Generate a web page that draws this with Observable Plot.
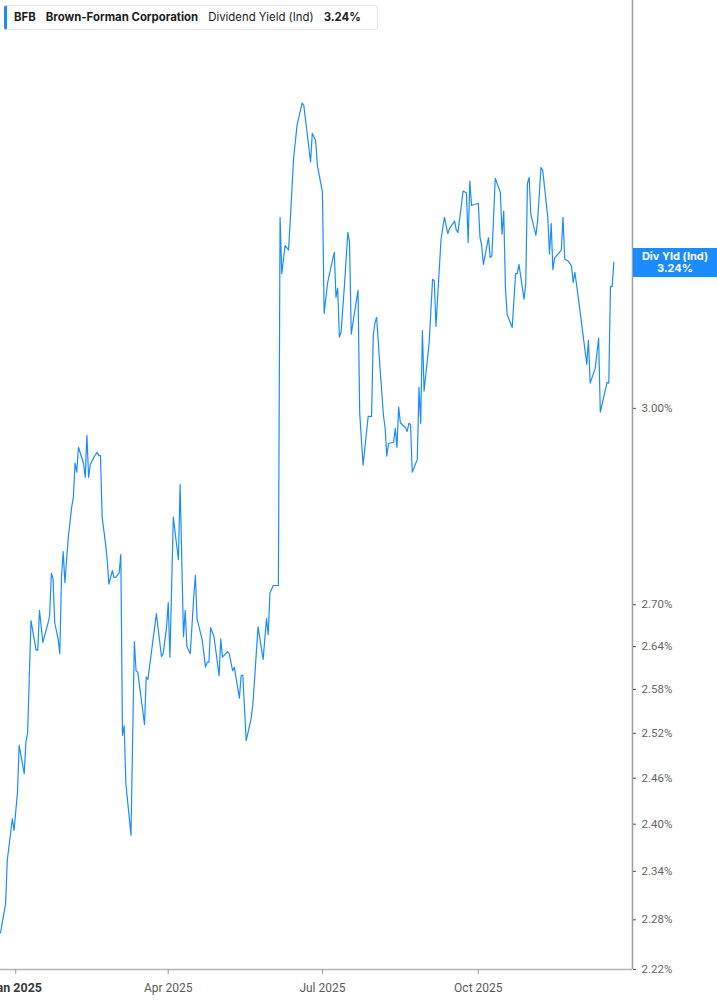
<!DOCTYPE html>
<html>
<head>
<meta charset="utf-8">
<script src="https://cdn.jsdelivr.net/npm/d3@7"></script>
<script src="https://cdn.jsdelivr.net/npm/@observablehq/plot@0.6"></script>
<style>
  html, body { margin: 0; padding: 0; background: #fff; }
  #wrap { position: relative; width: 717px; height: 1005px; overflow: hidden; font-family: Inter, "Noto Sans", sans-serif; }
  #legend { position: absolute; left: 4px; top: 5px; height: 25px; width: 374px; box-sizing: border-box;
    border: 1px solid #e6e6e6; border-left: 3px solid #1a8cff; border-radius: 3px; background: #fff;
    font-size: 11.4px; color: #1c1c1c; line-height: 23px; padding-left: 7px; white-space: nowrap; }
  #legend b { font-weight: 700; }
  #legend span { margin-right: 10px; }
  #tag { position: absolute; left: 633px; width: 84px; height: 29px; background: #1a8cff; color: #fff;
    font-size: 11px; font-weight: 700; text-align: center; line-height: 12px; box-sizing: border-box; padding-top: 2px; }
</style>
</head>
<body>
<div id="wrap">
  <div id="chart"></div>
  <div id="legend"><span><b>BFB</b></span><span><b>Brown-Forman Corporation</b></span><span>Dividend Yield (Ind)</span><b>3.24%</b></div>
  <div id="tag">Div Yld (Ind)<br>3.24%</div>
</div>
<script>
const dates = [
  "2024-12-23","2024-12-26","2024-12-27","2024-12-30","2024-12-31",
  "2025-01-02","2025-01-03","2025-01-06","2025-01-07","2025-01-08","2025-01-10","2025-01-13","2025-01-14","2025-01-15","2025-01-17","2025-01-20","2025-01-21","2025-01-22","2025-01-23","2025-01-24","2025-01-26","2025-01-27","2025-01-28","2025-01-29","2025-01-30",
  "2025-02-01","2025-02-03","2025-02-04","2025-02-05","2025-02-06","2025-02-07","2025-02-10","2025-02-11","2025-02-12","2025-02-13","2025-02-14","2025-02-16","2025-02-18","2025-02-19","2025-02-20","2025-02-21","2025-02-23","2025-02-24","2025-02-25","2025-02-27","2025-02-28",
  "2025-03-01","2025-03-03","2025-03-04","2025-03-05","2025-03-06","2025-03-07","2025-03-10","2025-03-12","2025-03-13","2025-03-14","2025-03-18","2025-03-19","2025-03-20","2025-03-25","2025-03-28","2025-03-29","2025-03-31",
  "2025-04-01","2025-04-02","2025-04-04","2025-04-07","2025-04-08","2025-04-10","2025-04-11","2025-04-12","2025-04-14","2025-04-16","2025-04-17","2025-04-18","2025-04-21","2025-04-23","2025-04-24","2025-04-25","2025-04-26","2025-04-28",
  "2025-05-01","2025-05-02","2025-05-03","2025-05-06","2025-05-07","2025-05-09","2025-05-10","2025-05-13","2025-05-14","2025-05-15","2025-05-17","2025-05-20","2025-05-21","2025-05-24","2025-05-27","2025-05-29","2025-05-30","2025-05-31",
  "2025-06-02","2025-06-05","2025-06-06","2025-06-07","2025-06-09","2025-06-11","2025-06-12","2025-06-14","2025-06-16","2025-06-19","2025-06-20","2025-06-24","2025-06-25","2025-06-27","2025-06-28",
  "2025-07-01","2025-07-02","2025-07-04","2025-07-06","2025-07-08","2025-07-09","2025-07-10","2025-07-11","2025-07-12","2025-07-14","2025-07-16","2025-07-17","2025-07-18","2025-07-20","2025-07-22","2025-07-23","2025-07-25","2025-07-26","2025-07-28","2025-07-30","2025-07-31",
  "2025-08-01","2025-08-02","2025-08-04","2025-08-06","2025-08-07","2025-08-08","2025-08-09","2025-08-12","2025-08-13","2025-08-14","2025-08-15","2025-08-16","2025-08-19","2025-08-20","2025-08-21","2025-08-22","2025-08-23","2025-08-26","2025-08-27","2025-08-28","2025-08-29","2025-08-30",
  "2025-09-02","2025-09-04","2025-09-05","2025-09-06","2025-09-09","2025-09-11","2025-09-13","2025-09-14","2025-09-17","2025-09-18","2025-09-19","2025-09-22","2025-09-24","2025-09-25","2025-09-26","2025-09-27",
  "2025-10-01","2025-10-02","2025-10-03","2025-10-04","2025-10-07","2025-10-08","2025-10-09","2025-10-11","2025-10-14","2025-10-15","2025-10-16","2025-10-17","2025-10-18","2025-10-21","2025-10-23","2025-10-24","2025-10-25","2025-10-28","2025-10-29","2025-10-30","2025-10-31",
  "2025-11-01","2025-11-04","2025-11-05","2025-11-07","2025-11-08","2025-11-11","2025-11-12","2025-11-13","2025-11-14","2025-11-15","2025-11-19","2025-11-20","2025-11-21","2025-11-23","2025-11-25","2025-11-26","2025-11-27","2025-11-29",
  "2025-12-04","2025-12-05","2025-12-06","2025-12-09","2025-12-11","2025-12-12","2025-12-16","2025-12-17","2025-12-18","2025-12-19","2025-12-20"
];
const yields = [
  2.264,2.300,2.354,2.407,2.392,
  2.441,2.504,2.466,2.508,2.521,2.677,2.635,2.635,2.692,2.646,2.673,2.684,2.746,2.738,2.674,2.651,2.630,2.740,2.778,2.732,
  2.799,2.845,2.860,2.913,2.899,2.938,2.913,2.891,2.957,2.891,2.911,2.922,2.930,2.925,2.925,2.830,2.790,2.765,2.730,2.750,2.740,
  2.740,2.746,2.774,2.517,2.530,2.453,2.386,2.647,2.606,2.604,2.532,2.597,2.594,2.687,2.626,2.630,2.667,
  2.703,2.625,2.830,2.766,2.880,2.654,2.692,2.640,2.630,2.709,2.743,2.680,2.650,2.611,2.618,2.618,2.667,2.654,
  2.599,2.651,2.625,2.633,2.630,2.606,2.611,2.568,2.599,2.600,2.510,2.541,2.561,2.668,2.622,2.680,2.657,2.717,
  2.728,2.728,3.324,3.225,3.274,3.266,3.318,3.431,3.492,3.534,3.530,3.424,3.477,3.464,3.418,
  3.369,3.157,3.208,3.236,3.262,3.184,3.200,3.117,3.125,3.205,3.297,3.279,3.122,3.159,3.196,2.992,2.910,2.936,2.987,2.987,3.120,
  3.141,3.150,3.065,2.989,2.969,2.924,2.944,2.946,2.968,2.938,3.002,2.977,2.969,2.963,2.976,2.974,2.899,2.919,3.034,2.976,3.128,3.028,
  3.108,3.215,3.213,3.135,3.285,3.324,3.295,3.304,3.317,3.301,3.297,3.371,3.368,3.279,3.389,3.345,
  3.349,3.288,3.274,3.241,3.288,3.253,3.256,3.394,3.369,3.294,3.335,3.201,3.155,3.133,3.225,3.225,3.241,3.181,3.208,3.385,3.396,
  3.329,3.292,3.318,3.414,3.409,3.324,3.259,3.313,3.232,3.252,3.266,3.324,3.250,3.247,3.238,3.210,3.227,3.184,
  3.072,3.112,3.041,3.065,3.115,2.994,3.042,3.041,3.203,3.203,3.245
];
const xTickDates = ["2025-01-01","2025-04-01","2025-07-01","2025-10-01"];
const xTickLabels = ["Jan 2025","Apr 2025","Jul 2025","Oct 2025"];
const yTicks = [2.22,2.28,2.34,2.40,2.46,2.52,2.58,2.64,2.70,3.00];
const xDomain = ["2024-12-23","2025-12-31"];
const yDomain = [2.22, 3.734];
const lastValue = 3.24;

const data = dates.map((d, i) => ({date: new Date(d), value: yields[i]}));
const xt = xTickDates.map(d => new Date(d));
const labelOf = d => xTickLabels[xt.findIndex(t => +t === +d)];

const plot = Plot.plot({
  width: 717,
  height: 1005,
  marginLeft: 0,
  marginRight: 85,
  marginTop: 0,
  marginBottom: 36,
  style: {fontFamily: "Roboto, 'Liberation Sans', sans-serif", background: "transparent"},
  x: {type: "utc", domain: xDomain.map(d => new Date(d))},
  y: {type: "log", domain: yDomain},
  marks: [
    Plot.ruleY([yDomain[0]], {stroke: "#b5b5b5", strokeWidth: 1.5}),
    Plot.ruleX([new Date(xDomain[1])], {stroke: "#a0a0a0", strokeWidth: 1.5}),
    Plot.line(data, {x: "date", y: "value", stroke: "#1a8cff", strokeWidth: 1.2}),
    Plot.axisX({ticks: xt.slice(0, 1), tickFormat: labelOf, tickSize: 5, tickPadding: 9,
      stroke: "#9a9a9a", fill: "#3a3a3a", fontSize: 12.5, fontWeight: "bold", label: null}),
    Plot.axisX({ticks: xt.slice(1), tickFormat: labelOf, tickSize: 5, tickPadding: 9,
      stroke: "#9a9a9a", fill: "#5a5a5a", fontSize: 12, label: null}),
    Plot.axisY({anchor: "right", ticks: yTicks, tickFormat: d => d.toFixed(2) + "%",
      tickSize: 3, tickPadding: 6, stroke: "#555", fill: "#666", fontSize: 11.5, label: null})
  ]
});
document.getElementById("chart").appendChild(plot);
const yPix = plot.scale("y").apply(lastValue);
document.getElementById("tag").style.top = (yPix - 16) + "px";
</script>
</body>
</html>
